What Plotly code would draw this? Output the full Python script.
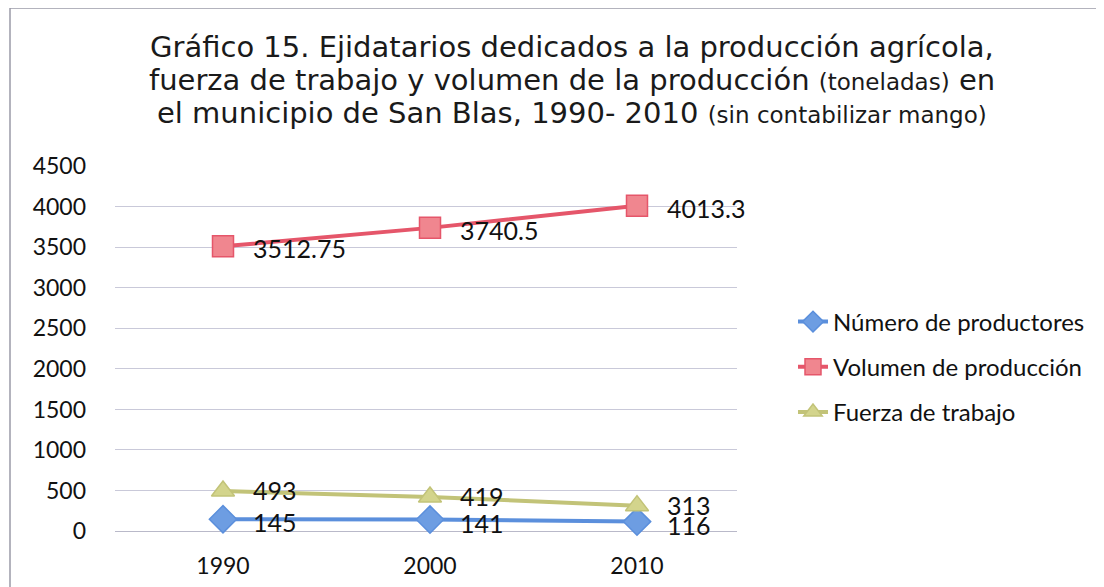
import plotly.graph_objects as go

years = ["1990", "2000", "2010"]
productores = [145, 141, 116]
volumen = [3512.75, 3740.5, 4013.3]
fuerza = [493, 419, 313]
volumen_labels = ["3512.75", "3740.5", "4013.3"]
y_ticks = [0, 500, 1000, 1500, 2000, 2500, 3000, 3500, 4000, 4500]
title_lines = [
    "Gráfico 15. Ejidatarios dedicados a la producción agrícola,",
    "fuerza de trabajo y volumen de la producción <span style='font-size:23px'>(toneladas)</span> en",
    "el municipio de San Blas, 1990- 2010 <span style='font-size:23px'>(sin contabilizar mango)</span>",
]

xpos = list(range(len(years)))
FONT = "Lato"

# page body offset of 8px is compensated in the margins
OFF = 8
PL, PR, PT, PB = 115, 737, 166, 531  # plot box in screen px
W, H = 1104, 587
pw, ph = PR - PL, PB - PT

def px(xs):
    return (xs - PL) / pw

def py(ys):
    return (PB - ys) / ph

fig = go.Figure()

series = [
    ("Número de productores", productores, [str(v) for v in productores],
     "#5b8fdc", "#6d9de2", "diamond", 21, -3),
    ("Volumen de producción", volumen, volumen_labels,
     "#e5566a", "#f0868f", "square", 21, -2),
    ("Fuerza de trabajo", fuerza, [str(v) for v in fuerza],
     "#c2c378", "#d3d48c", "triangle-up", 20, 1),
]

for i, (name, vals, labels, lc, mc, sym, ms, ysh) in enumerate(series):
    fig.add_trace(go.Scatter(
        x=xpos, y=vals, name=name, mode="lines+markers",
        line=dict(color=lc, width=4),
        marker=dict(symbol=sym, size=ms, color=mc, line=dict(color=lc, width=1.5)),
        legendgroup=f"g{i}",
        cliponaxis=False,
    ))
    for xv, yv, lab in zip(xpos, vals, labels):
        fig.add_annotation(
            x=xv, y=yv, text=lab, showarrow=False,
            xanchor="left", yanchor="middle", xshift=28, yshift=ysh,
            font=dict(family=FONT, size=25, color="#111111"),
        )

for k, line in enumerate(title_lines):
    fig.add_annotation(
        text=line, xref="paper", yref="paper",
        x=px(572), y=py(47 + 33 * k),
        xanchor="center", yanchor="middle", showarrow=False,
        font=dict(family="DejaVu Sans", size=29, color="#1a1a1a"),
    )

# chart frame
fig.add_shape(type="rect", xref="paper", yref="paper",
              x0=px(10), x1=px(1300), y0=py(800), y1=py(8),
              line=dict(color="#9a9aa8", width=1.5), layer="below")

fig.update_layout(
    width=W, height=H,
    margin=dict(l=PL - OFF, r=W - (PR - OFF), t=PT - OFF, b=H - (PB - OFF)),
    paper_bgcolor="white", plot_bgcolor="white",
    showlegend=True,
    legend=dict(
        x=px(793), y=py(367), xanchor="left", yanchor="middle",
        font=dict(family=FONT, size=24, color="#111111"),
        tracegroupgap=11,
        bgcolor="rgba(0,0,0,0)",
    ),
    xaxis=dict(
        range=[(PL - 223) / 207, (PR - 223) / 207],
        tickvals=xpos, ticktext=years,
        showgrid=False, zeroline=False, showline=False,
        tickfont=dict(family=FONT, size=23, color="#111111"),
        ticks="", ticklabelstandoff=19,
    ),
    yaxis=dict(
        range=[0, 4504], tickvals=y_ticks,
        showgrid=True, gridcolor="#c9c9d9", gridwidth=1.3,
        zeroline=True, zerolinecolor="#b9b9c9", zerolinewidth=1.3,
        showline=False, ticks="",
        tickfont=dict(family=FONT, size=23, color="#111111"),
        ticklabelstandoff=28,
    ),
)

fig.write_html("out.html")
